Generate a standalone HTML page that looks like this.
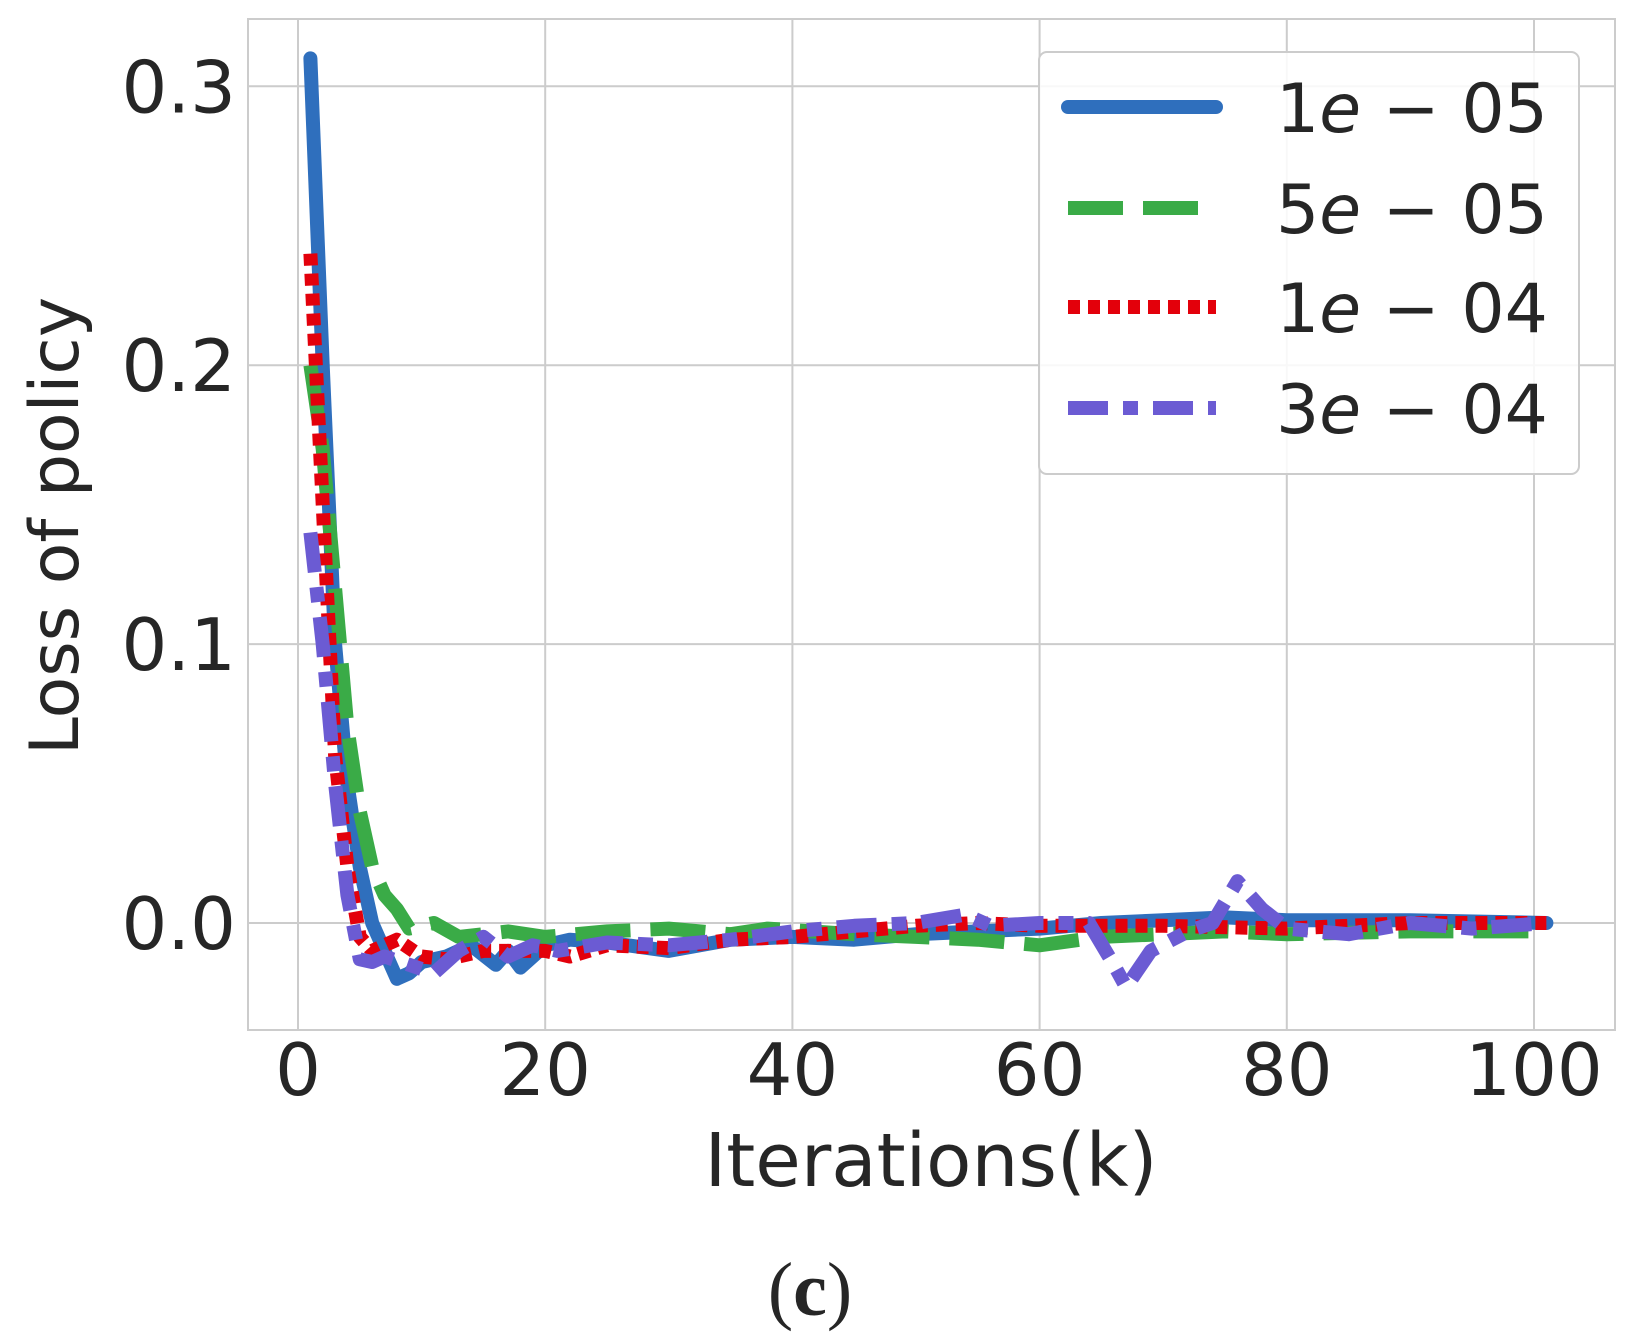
<!DOCTYPE html>
<html><head><meta charset="utf-8"><style>
body{margin:0;background:#fff;}
svg{display:block;}
text{font-family:"DejaVu Sans","Liberation Sans",sans-serif;fill:#262626;}
</style></head><body>
<svg id="s" width="1634" height="1340" xmlns="http://www.w3.org/2000/svg">
<rect x="248" y="19" width="1367" height="1011" fill="#fff" stroke="#ccc" stroke-width="2"/>
<g id="grid" stroke="#ccc" stroke-width="2"></g>
<g id="lines" fill="none" stroke-width="14"></g>
<g id="ticks" font-size="72"></g>
<rect x="1039" y="52" width="540" height="422" rx="8" fill="#fff" fill-opacity="0.85" stroke="#ccc" stroke-width="2"/>
<g stroke-width="14">
<line x1="1068" y1="107" x2="1216" y2="107" stroke="#2f6fbd" stroke-linecap="round"/>
<line x1="1068" y1="208" x2="1216" y2="208" stroke="#3aab47" stroke-dasharray="55,20"/>
<line x1="1068" y1="307" x2="1216" y2="307" stroke="#e3000b" stroke-dasharray="12,8"/>
<line x1="1068" y1="408" x2="1216" y2="408" stroke="#6b5bd3" stroke-dasharray="40,15,15,15"/>
</g>
<g font-size="68">
<text x="1276" y="132">1<tspan font-style="italic">e</tspan> − 05</text>
<text x="1276" y="233">5<tspan font-style="italic">e</tspan> − 05</text>
<text x="1276" y="332">1<tspan font-style="italic">e</tspan> − 04</text>
<text x="1276" y="433">3<tspan font-style="italic">e</tspan> − 04</text>
</g>
<text x="931" y="1186" font-size="74" text-anchor="middle">Iterations(k)</text>
<text transform="translate(78,526) rotate(-90)" font-size="68" text-anchor="middle">Loss of policy</text>
<text x="810" y="1315" font-size="76" text-anchor="middle" style="font-family:'Liberation Serif',serif">(<tspan font-weight="bold">c</tspan>)</text>
</svg>
<script>
const X=x=>298+12.36*x, Y=v=>923-2789*v;
const ns="http://www.w3.org/2000/svg";
const g=document.getElementById('grid'), t=document.getElementById('ticks'), L=document.getElementById('lines');
function el(p,tag,a,txt){const e=document.createElementNS(ns,tag);for(const k in a)e.setAttribute(k,a[k]);if(txt)e.textContent=txt;p.appendChild(e);return e;}
for(let i=0;i<=100;i+=20){el(g,'line',{x1:X(i),x2:X(i),y1:19,y2:1030});el(t,'text',{x:X(i),y:1095,'text-anchor':'middle'},String(i));}
for(let i=0;i<=3;i++){const v=i/10;el(g,'line',{x1:248,x2:1615,y1:Y(v),y2:Y(v)});el(t,'text',{x:236,y:Y(v)+26,'text-anchor':'end'},v.toFixed(1));}
const S=[
["#2f6fbd","",[[1,.31],[2,.2],[3,.1],[4,.05],[5,.02],[6,0],[7,-.01],[8,-.02],[9,-.018],[10,-.014],[12,-.012],[14,-.008],[16,-.015],[17,-.01],[18,-.016],[19,-.012],[20,-.008],[22,-.006],[25,-.007],[30,-.01],[35,-.006],[40,-.005],[45,-.006],[50,-.004],[55,-.003],[60,-.002],[65,0],[70,.001],[75,.002],[80,.001],[90,.001],[101,0]]],
["#3aab47","55,20",[[1,.2],[2,.17],[3,.12],[4,.07],[5,.04],[6,.02],[7,.01],[8,.005],[9,-.002],[11,0],[13,-.005],[15,-.004],[17,-.003],[20,-.005],[25,-.003],[30,-.002],[35,-.004],[38,-.002],[45,-.004],[50,-.005],[55,-.006],[60,-.008],[65,-.005],[70,-.004],[75,-.003],[80,-.004],[90,-.003],[101,-.003]]],
["#e3000b","12,8",[[1,.24],[2,.15],[3,.06],[4,.02],[5,-.005],[6,-.01],[7,-.008],[8,-.006],[10,-.012],[12,-.013],[15,-.01],[20,-.01],[22,-.012],[25,-.008],[30,-.009],[35,-.006],[40,-.005],[45,-.003],[50,-.001],[55,0],[60,-.001],[70,-.001],[80,-.002],[90,0],[101,0]]],
["#6b5bd3","40,15,15,15",[[1,.14],[2,.1],[3,.05],[4,.01],[5,-.013],[6,-.014],[7,-.012],[9,-.015],[11,-.018],[13,-.01],[15,-.005],[17,-.012],[19,-.008],[21,-.01],[25,-.007],[30,-.008],[35,-.006],[40,-.003],[45,-.001],[50,0],[54,.003],[56,-.001],[60,0],[64,0],[66,-.015],[67,-.023],[69,-.01],[72,-.003],[74,0],[76,.015],[78,.005],[80,-.002],[85,-.004],[90,0],[95,-.002],[101,0]]]];
for(const [c,d,p] of S){const a={d:'M'+p.map(q=>X(q[0]).toFixed(1)+','+Y(q[1]).toFixed(1)).join('L'),stroke:c,'stroke-linejoin':'round'};if(d)a['stroke-dasharray']=d;else a['stroke-linecap']='round';el(L,'path',a);}
</script>
</body></html>
